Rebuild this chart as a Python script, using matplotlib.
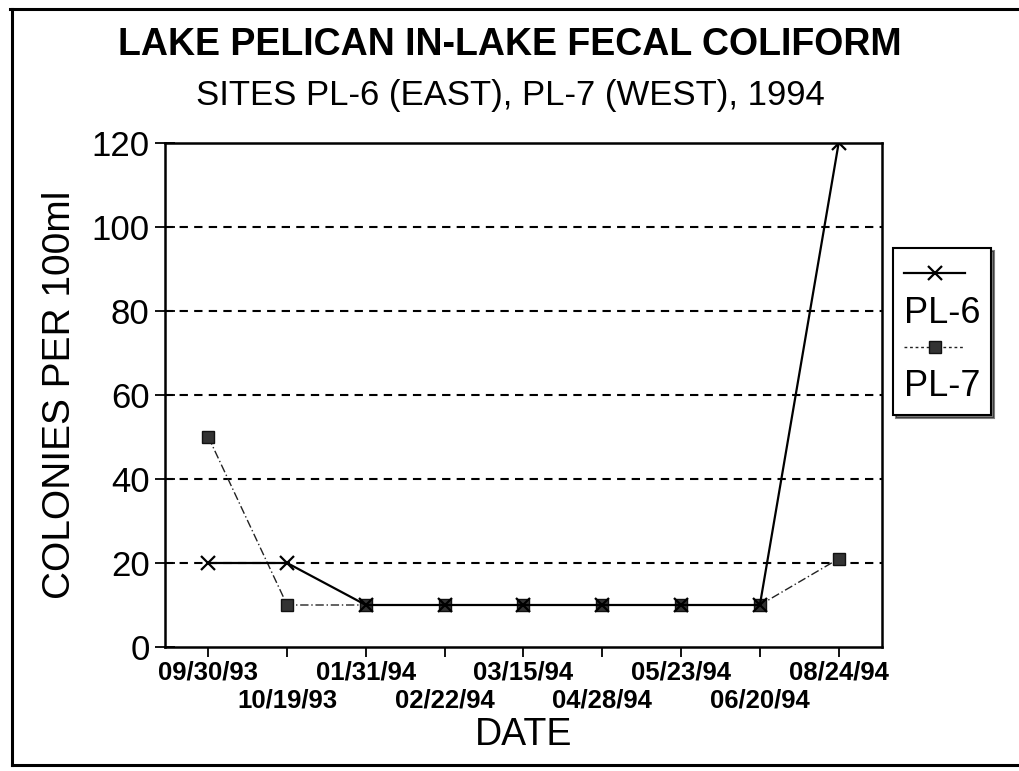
import matplotlib
matplotlib.use("Agg")
import matplotlib.pyplot as plt
from matplotlib.lines import Line2D

dates = ["09/30/93", "10/19/93", "01/31/94", "02/22/94", "03/15/94",
         "04/28/94", "05/23/94", "06/20/94", "08/24/94"]
pl6 = [20, 20, 10, 10, 10, 10, 10, 10, 120]
pl7 = [50, 10, 10, 10, 10, 10, 10, 10, 21]
yticks = [0, 20, 40, 60, 80, 100, 120]

plt.rcParams['font.family'] = ['Liberation Sans', 'DejaVu Sans']

fig = plt.figure(figsize=(10.2, 7.71), dpi=100)
ax = fig.add_axes([165/1020, 1-647/771, (882-165)/1020, (647-143)/771])

x = list(range(len(dates)))
ax.plot(x, pl6, color='black', lw=1.6, marker='x', ms=10, mew=1.6, label='PL-6', zorder=4)
ax.plot(x, pl7, color='#222222', lw=1.0, ls=(0, (6, 2, 1, 2)), marker='s', ms=8,
        mfc='#333333', mec='#111111', label='PL-7', zorder=3)

ax.set_xlim(-0.55, len(dates) - 0.45)
ax.set_ylim(0, 120)
ax.set_yticks(yticks)
ax.set_yticklabels([str(v) for v in yticks], fontsize=25)

even = x[0::2]
odd = x[1::2]
ax.set_xticks(even)
ax.set_xticklabels(dates[0::2], fontsize=18.5, fontweight='bold')
ax.set_xticks(odd, minor=True)
ax.set_xticklabels(dates[1::2], minor=True, fontsize=18.5, fontweight='bold')
ax.tick_params(axis='y', direction='inout', length=14, width=1.3, pad=4)
ax.tick_params(axis='x', which='major', direction='out', length=7, width=1.3, pad=3)
ax.tick_params(axis='x', which='minor', direction='out', length=7, width=1.3, pad=23)
for g in [20, 40, 60, 80, 100]:
    ax.axhline(g, color='black', lw=1.5, ls=(0, (4, 3)), zorder=1)
for s in ax.spines.values():
    s.set_linewidth(1.8)

ax.set_ylabel("COLONIES PER 100ml", fontsize=28, labelpad=10)
ax.set_xlabel("DATE", fontsize=27, labelpad=3)

fig.text(0.5, 1-45/771, "LAKE PELICAN IN-LAKE FECAL COLIFORM", ha='center', va='center',
         fontsize=27, fontweight='bold')
fig.text(0.5, 1-95/771, "SITES PL-6 (EAST), PL-7 (WEST), 1994", ha='center', va='center',
         fontsize=25)

h6 = Line2D([], [], color='black', lw=1.6, marker='x', ms=10, mew=1.6)
h7 = Line2D([], [], color='#222222', lw=1.0, ls=(0, (2, 2)), marker='s', ms=8,
            mfc='#333333', mec='#111111')
blank = Line2D([], [], color='none')
leg = fig.legend([h6, blank, h7, blank], ['', 'PL-6', '', 'PL-7'],
                 loc='upper left', bbox_to_anchor=(893/1020, 1-248/771),
                 fontsize=26, handlelength=1.7, handletextpad=-1.7,
                 frameon=True, fancybox=False, shadow={'color': 'black'},
                 borderpad=0.3, labelspacing=0.05, borderaxespad=0)
leg.get_frame().set_edgecolor('black')
leg.get_frame().set_linewidth(1.5)

# outer frame
for (xs, ys) in [([10/1020, 1.0], [1-9/771, 1-9/771]),
                 ([12/1020, 12/1020], [1-9/771, 1-765/771]),
                 ([12/1020, 1.0], [1-765/771, 1-765/771])]:
    fig.add_artist(Line2D(xs, ys, color='black', lw=2.2, transform=fig.transFigure))

fig.savefig("out.png", dpi=100)
